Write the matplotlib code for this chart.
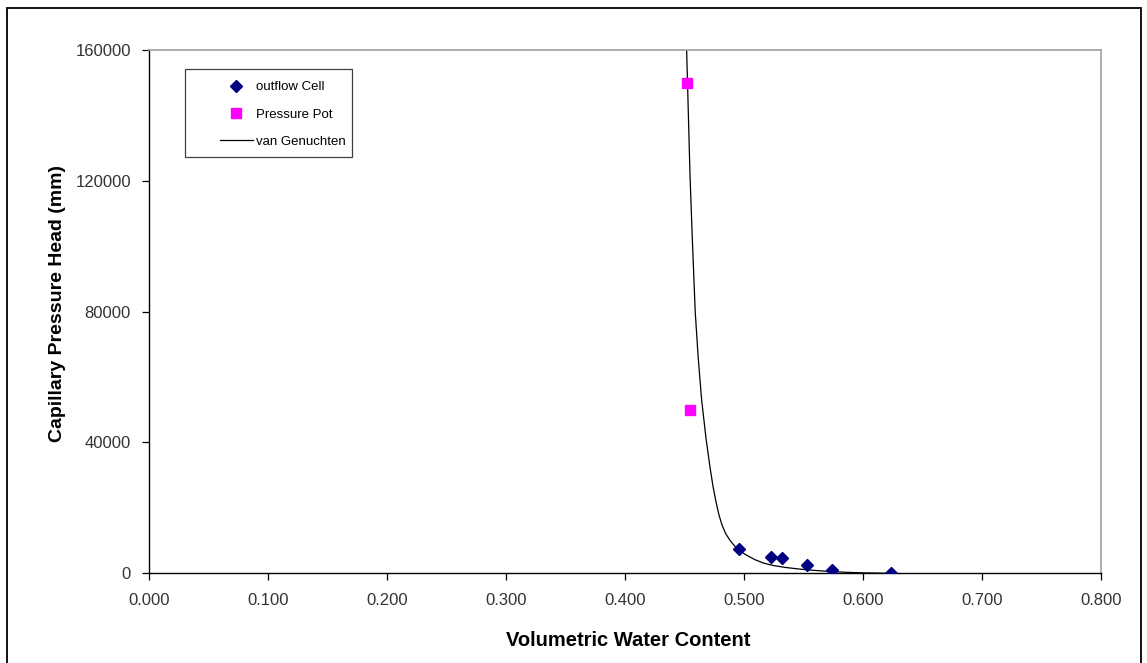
"Soil water retention curve, Excel style"

import matplotlib
matplotlib.use('Agg')
import matplotlib.pyplot as plt
from matplotlib.patches import Rectangle

plt.rcParams['font.family'] = ['Liberation Sans', 'DejaVu Sans']

# outflow cell measurements
cell_theta = [0.4958, 0.5227, 0.5319, 0.5532, 0.5742, 0.6233]
cell_head = [7400, 5100, 4800, 2400, 1000, 0]

# pressure pot measurements
pot_theta = [0.4523, 0.4549]
pot_head = [150000, 50000]

# fitted van Genuchten curve
vg_theta = [0.4518, 0.4546, 0.4566, 0.4590, 0.4615, 0.4644, 0.4680,
            0.4714, 0.4740, 0.4765, 0.4790, 0.4815, 0.4845, 0.4882,
            0.4920, 0.4960, 0.5023, 0.5090, 0.5162, 0.5250, 0.5359,
            0.5470, 0.5582, 0.5720, 0.5863, 0.6000, 0.6143, 0.6200]
vg_head = [160000, 122000, 102000, 80000, 66000, 53000, 41500,
           32500, 26500, 21800, 17800, 14800, 12200, 10100,
           8400, 7000, 5500, 4200, 3150, 2350, 1740,
           1280, 920, 560, 300, 140, 50, 0]

x_ticks = [0.0, 0.1, 0.2, 0.3, 0.4, 0.5, 0.6, 0.7, 0.8]
y_ticks = [0, 40000, 80000, 120000, 160000]


def main():
    W, H = 1147, 663
    fig = plt.figure(figsize=(W / 100, H / 100), dpi=100)
    ax = fig.add_axes([149 / W, 1 - 573.3 / H, (1101 - 149) / W, (573.3 - 50) / H])

    ax.plot(cell_theta, cell_head, linestyle='none', marker='D', ms=6.5,
            color='#000080', label='outflow Cell', zorder=3)
    ax.plot(pot_theta, pot_head, linestyle='none', marker='s', ms=7.5,
            color='#ff00ff', label='Pressure Pot', zorder=3)
    ax.plot(vg_theta, vg_head, color='black', lw=0.9, label='van Genuchten', zorder=2)

    ax.set_xlim(0, 0.8)
    ax.set_ylim(0, 160000)
    ax.set_xticks(x_ticks)
    ax.set_xticklabels(['%.3f' % t for t in x_ticks])
    ax.set_yticks(y_ticks)
    ax.set_yticklabels([str(t) for t in y_ticks])
    ax.tick_params(direction='out', length=5, width=0.9, labelsize=12,
                   colors='black', labelcolor='#333333')
    ax.tick_params(axis='x', pad=9)
    ax.tick_params(axis='y', pad=8)

    for s in ('top', 'right'):
        ax.spines[s].set_color('#a0a0a0')
        ax.spines[s].set_linewidth(1.2)
    for s in ('left', 'bottom'):
        ax.spines[s].set_color('black')
        ax.spines[s].set_linewidth(1.0)

    fig.text(628 / W, 1 - 641 / H, 'Volumetric Water Content', ha='center', va='center',
             fontsize=14.5, fontweight='bold')
    fig.text(57 / W, 1 - 304 / H, 'Capillary Pressure Head (mm)', ha='center', va='center',
             rotation=90, fontsize=14, fontweight='bold')

    # legend without its own frame, frame drawn by hand like excel
    ax.legend(loc='upper left', bbox_to_anchor=(220 / W, 1 - 81 / H),
              bbox_transform=fig.transFigure, frameon=False, fontsize=9.5,
              handlelength=2.5, labelspacing=1.15, borderpad=0,
              handletextpad=0.2, borderaxespad=0)
    fig.patches.append(Rectangle((185 / W, 1 - 157 / H), (352 - 185) / W, (157 - 69) / H,
                                 transform=fig.transFigure, fill=False,
                                 edgecolor='#404040', lw=0.9, zorder=5))

    fig.patches.append(Rectangle((7 / W, -0.02), (1141 - 7) / W, 1 - 8 / H + 0.02,
                                 transform=fig.transFigure, fill=False,
                                 edgecolor='black', lw=1.3))

    fig.savefig('out.png', dpi=100)


if __name__ == "__main__":
    main()
